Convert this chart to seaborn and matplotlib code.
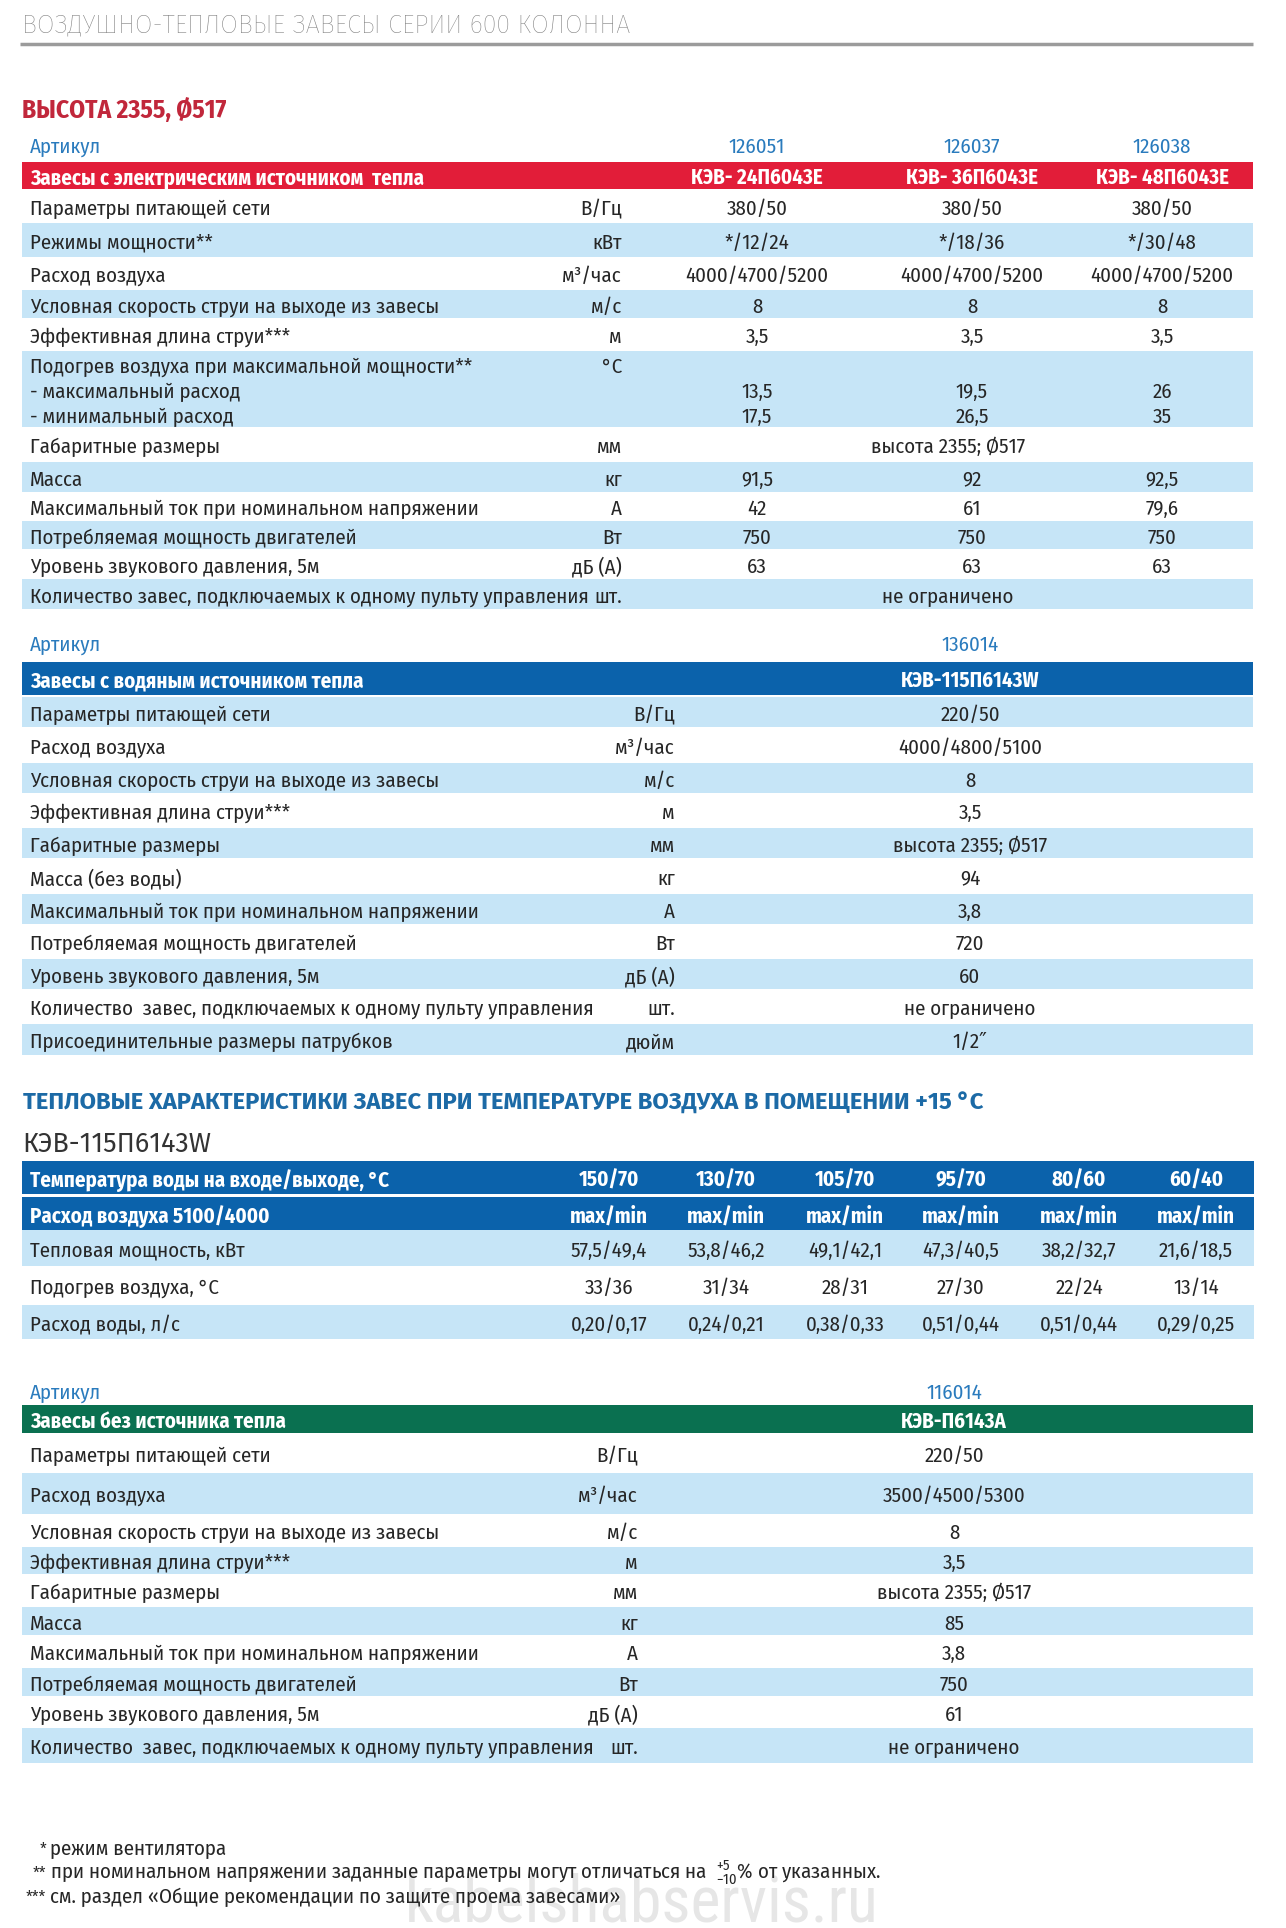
import matplotlib
matplotlib.use('Agg')
import matplotlib.pyplot as plt
import seaborn as sns

# Данные таблиц
elec_articles = ['126051', '126037', '126038']
elec_models = ['КЭВ- 24П6043Е', 'КЭВ- 36П6043Е', 'КЭВ- 48П6043Е']
elec_params = ['Параметры питающей сети', 'Режимы мощности**', 'Расход воздуха',
               'Условная скорость струи на выходе из завесы', 'Эффективная длина струи***',
               'Подогрев воздуха при максимальной мощности**\n- максимальный расход\n- минимальный расход',
               'Габаритные размеры', 'Масса', 'Максимальный ток при номинальном напряжении',
               'Потребляемая мощность двигателей', 'Уровень звукового давления, 5м',
               'Количество завес, подключаемых к одному пульту управления']
elec_units = ['В/Гц', 'кВт', 'м³/час', 'м/с', 'м', '°С', 'мм', 'кг', 'А', 'Вт', 'дБ (А)', 'шт.']
elec_24 = ['380/50', '*/12/24', '4000/4700/5200', '8', '3,5', '\n13,5\n17,5', '', '91,5', '42', '750', '63', '']
elec_36 = ['380/50', '*/18/36', '4000/4700/5200', '8', '3,5', '\n19,5\n26,5', '', '92', '61', '750', '63', '']
elec_48 = ['380/50', '*/30/48', '4000/4700/5200', '8', '3,5', '\n26\n35', '', '92,5', '79,6', '750', '63', '']
elec_common = ['', '', '', '', '', '', 'высота 2355; Ø517', '', '', '', '', 'не ограничено']

water_article = '136014'
water_model = 'КЭВ-115П6143W'
water_params = ['Параметры питающей сети', 'Расход воздуха', 'Условная скорость струи на выходе из завесы',
                'Эффективная длина струи***', 'Габаритные размеры', 'Масса (без воды)',
                'Максимальный ток при номинальном напряжении', 'Потребляемая мощность двигателей',
                'Уровень звукового давления, 5м', 'Количество  завес, подключаемых к одному пульту управления',
                'Присоединительные размеры патрубков']
water_units = ['В/Гц', 'м³/час', 'м/с', 'м', 'мм', 'кг', 'А', 'Вт', 'дБ (А)', 'шт.', 'дюйм']
water_values = ['220/50', '4000/4800/5100', '8', '3,5', 'высота 2355; Ø517', '94', '3,8', '720', '60',
                'не ограничено', '1/2\u2033']

therm_temps = ['150/70', '130/70', '105/70', '95/70', '80/60', '60/40']
therm_modes = ['max/min'] * 6
therm_power = ['57,5/49,4', '53,8/46,2', '49,1/42,1', '47,3/40,5', '38,2/32,7', '21,6/18,5']
therm_heat = ['33/36', '31/34', '28/31', '27/30', '22/24', '13/14']
therm_flow = ['0,20/0,17', '0,24/0,21', '0,38/0,33', '0,51/0,44', '0,51/0,44', '0,29/0,25']
therm_rows = ['Тепловая мощность, кВт', 'Подогрев воздуха, °С', 'Расход воды, л/с']

nh_article = '116014'
nh_model = 'КЭВ-П6143А'
nh_params = ['Параметры питающей сети', 'Расход воздуха', 'Условная скорость струи на выходе из завесы',
             'Эффективная длина струи***', 'Габаритные размеры', 'Масса',
             'Максимальный ток при номинальном напряжении', 'Потребляемая мощность двигателей',
             'Уровень звукового давления, 5м', 'Количество  завес, подключаемых к одному пульту управления']
nh_units = ['В/Гц', 'м³/час', 'м/с', 'м', 'мм', 'кг', 'А', 'Вт', 'дБ (А)', 'шт.']
nh_values = ['220/50', '3500/4500/5300', '8', '3,5', 'высота 2355; Ø517', '85', '3,8', '750', '61',
             'не ограничено']

notes_marks = ['*', '**', '***']
notes_text = ['режим вентилятора',
              'при номинальном напряжении заданные параметры могут отличаться на  $^{+5}_{-10}$% от указанных.',
              'см. раздел «Общие рекомендации по защите проема завесами»']

# Разметка (пиксели)
elec_edges = [189, 223, 257, 290, 318, 351, 427, 462, 492, 521, 549, 579, 609]
water_edges = [697, 727, 763, 793, 828, 858, 894, 924, 959, 989, 1024, 1055]
therm_edges = [1230, 1266, 1305, 1339]
nh_edges = [1433, 1473, 1514, 1547, 1574, 1607, 1635, 1668, 1696, 1728, 1763]

RED = '#e21d39'
BLUE = '#0b62ab'
GREEN = '#0a7050'
LIGHT = '#c6e5f7'
TXT = '#262626'
ART = '#2a7bbd'
X0, X1 = 22, 1253

sns.set_theme(style='white')
plt.rcParams['font.family'] = ['Fira Sans Condensed', 'DejaVu Sans']
plt.rcParams['mathtext.fontset'] = 'custom'
plt.rcParams['mathtext.rm'] = 'Fira Sans Condensed'
FS = 15

fig = plt.figure(figsize=(12.86, 19.28), dpi=100)
ax = fig.add_axes([0, 0, 1, 1])
ax.set_xlim(0, 1286)
ax.set_ylim(1928, 0)
ax.axis('off')


def band(top, bottom, color, x0=X0, x1=X1):
    ax.barh((top + bottom) / 2, x1 - x0, height=bottom - top, left=x0, color=color, linewidth=0)


def put(x, y, s, ha='left', color=TXT, size=FS, weight='normal'):
    ax.text(x, y, s, ha=ha, va='center_baseline', color=color, fontsize=size, weight=weight)


def multiline(x, top, bottom, s, ha='left', color=TXT):
    lines = s.split('\n')
    if len(lines) == 1:
        put(x, (top + bottom) / 2 + 1, s, ha=ha, color=color)
    else:
        for k, ln in enumerate(lines):
            if ln:
                put(x, top + 14 + 25 * k, ln, ha=ha, color=color)


# Заголовок страницы
ax.text(22, 23, 'ВОЗДУШНО-ТЕПЛОВЫЕ ЗАВЕСЫ СЕРИИ 600 КОЛОННА', va='center_baseline', color='#7d7d7d',
        fontsize=18.3, weight='light', family=['Fira Sans', 'DejaVu Sans'])
ax.plot([20, 1253], [44, 44], color='#9b9b9b', lw=2.5, solid_capstyle='butt')
ax.text(22, 108, 'ВЫСОТА 2355, Ø517', va='center_baseline', color='#c1273b', fontsize=18.3, weight='bold')

# Таблица 1: электрические
elec_cols = [757, 972, 1162]
put(30, 145, 'Артикул', color=ART)
for x, a in zip(elec_cols, elec_articles):
    put(x, 145, a, ha='center', color=ART)
band(162, 189, RED)
put(30, 176, 'Завесы с электрическим источником  тепла', color='white', weight='bold')
for x, m in zip(elec_cols, elec_models):
    put(x, 176, m, ha='center', color='white', weight='bold')
for i, (p, u) in enumerate(zip(elec_params, elec_units)):
    top, bottom = elec_edges[i], elec_edges[i + 1]
    if i % 2 == 1:
        band(top, bottom, LIGHT)
    multiline(30, top, bottom, p)
    multiline(622, top, bottom, u if '\n' not in p else u + '\n\n', ha='right')
    for x, v in zip(elec_cols, [elec_24[i], elec_36[i], elec_48[i]]):
        if v:
            multiline(x, top, bottom, v, ha='center')
    if elec_common[i]:
        multiline(948, top, bottom, elec_common[i], ha='center')

# Таблица 2: водяные
put(30, 643, 'Артикул', color=ART)
put(970, 643, water_article, ha='center', color=ART)
band(662, 695, BLUE)
put(30, 679, 'Завесы с водяным источником тепла', color='white', weight='bold')
put(970, 679, water_model, ha='center', color='white', weight='bold')
for i, (p, u, v) in enumerate(zip(water_params, water_units, water_values)):
    top, bottom = water_edges[i], water_edges[i + 1]
    if i % 2 == 0:
        band(top, bottom, LIGHT)
    multiline(30, top, bottom, p)
    multiline(675, top, bottom, u, ha='right')
    multiline(970, top, bottom, v, ha='center')

# Тепловые характеристики
ax.text(23, 1101, 'ТЕПЛОВЫЕ ХАРАКТЕРИСТИКИ ЗАВЕС ПРИ ТЕМПЕРАТУРЕ ВОЗДУХА В ПОМЕЩЕНИИ +15 °С',
        va='center_baseline', color='#1c6aa6', fontsize=17.15, weight='bold', family=['Fira Sans', 'DejaVu Sans'])
ax.text(22, 1141, 'КЭВ-115П6143W', va='center_baseline', color='#333333', fontsize=19.4,
        family=['Fira Sans', 'DejaVu Sans'])
therm_cols = [609, 726, 845, 961, 1079, 1196]
band(1161, 1194, BLUE, x1=1254)
band(1197, 1230, BLUE, x1=1254)
put(30, 1178, 'Температура воды на входе/выходе, °С', color='white', weight='bold')
put(30, 1214, 'Расход воздуха 5100/4000', color='white', weight='bold')
for x, t, m in zip(therm_cols, therm_temps, therm_modes):
    put(x, 1178, t, ha='center', color='white', weight='bold')
    put(x, 1214, m, ha='center', color='white', weight='bold')
for i, (name, vals) in enumerate(zip(therm_rows, [therm_power, therm_heat, therm_flow])):
    top, bottom = therm_edges[i], therm_edges[i + 1]
    if i % 2 == 0:
        band(top, bottom, LIGHT, x1=1254)
    multiline(30, top, bottom, name)
    for x, v in zip(therm_cols, vals):
        multiline(x, top, bottom, v, ha='center')

# Таблица 3: без нагрева
put(30, 1391, 'Артикул', color=ART)
put(954, 1391, nh_article, ha='center', color=ART)
band(1405, 1433, GREEN)
put(30, 1420, 'Завесы без источника тепла', color='white', weight='bold')
put(954, 1420, nh_model, ha='center', color='white', weight='bold')
for i, (p, u, v) in enumerate(zip(nh_params, nh_units, nh_values)):
    top, bottom = nh_edges[i], nh_edges[i + 1]
    if i % 2 == 1:
        band(top, bottom, LIGHT)
    multiline(30, top, bottom, p)
    multiline(638, top, bottom, u, ha='right')
    multiline(954, top, bottom, v, ha='center')

# Водяной знак и сноски
ax.text(642, 1922, 'kabelshabservis.ru', ha='center', va='baseline', color='#e6e6e6', fontsize=46,
        family=['Roboto Condensed', 'DejaVu Sans'], zorder=0)
for y, mk, t in zip([1855, 1879, 1903], notes_marks, notes_text):
    ax.text(46, y, mk, ha='right', va='baseline', color=TXT, fontsize=12)
    ax.text(50, y, t, ha='left', va='baseline', color=TXT, fontsize=15)

fig.savefig('out.png', dpi=100)
